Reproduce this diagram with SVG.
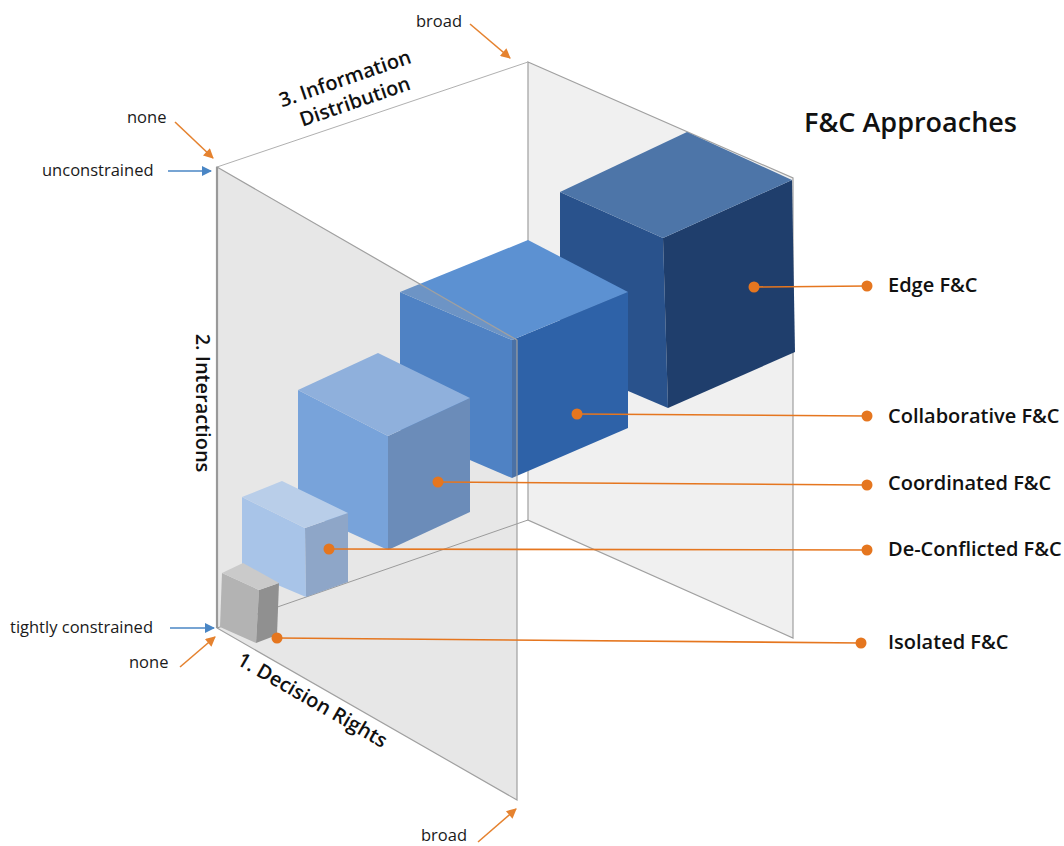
<svg xmlns="http://www.w3.org/2000/svg" width="1064" height="846" viewBox="0 0 1064 846">
<style>
text{font-family:"Open Sans","Liberation Sans",sans-serif;fill:#111}
.lbl{font-size:20px;font-weight:600}
.ax{font-size:20px;font-weight:600}
.sm{font-size:16.5px;fill:#1a1a1a}
.ttl{font-size:27px;font-weight:600}
.plane{stroke:#a0a0a0;stroke-width:1.2}
.lead{stroke:#e5761f;stroke-width:1.6;fill:none}
.dot{fill:#e5761f}
.oa{stroke:#e5822f;stroke-width:1.6;fill:none;marker-end:url(#ao)}
.ba{stroke:#4a86c5;stroke-width:1.6;fill:none;marker-end:url(#ab)}
</style>
<defs>
<marker id="ao" viewBox="0 0 10 10" refX="9" refY="5" markerWidth="12" markerHeight="10" markerUnits="userSpaceOnUse" orient="auto"><path d="M0,0L10,5L0,10z" fill="#e5822f"/></marker>
<marker id="ab" viewBox="0 0 10 10" refX="9" refY="5" markerWidth="12" markerHeight="10" markerUnits="userSpaceOnUse" orient="auto"><path d="M0,0L10,5L0,10z" fill="#4a86c5"/></marker>
</defs>
<rect width="1064" height="846" fill="#fff"/>

<g id="frame">
<polygon id="right-plane" class="plane" points="528,62 793,178 793,638 528,520" fill="#f0f0f0"/>
<line x1="217" y1="167" x2="528" y2="62" stroke="#b0b0b0" stroke-width="1"/>
<line x1="217" y1="628" x2="528" y2="520" stroke="#9a9a9a" stroke-width="1"/>
</g>

<g id="edge-cube">
<polygon points="560,192 663,238 668,408 560,362" fill="#29528c"/>
<polygon points="663,238 792,180 795,352 668,408" fill="#1f3e6c"/>
<polygon points="560,192 687,132 792,180 663,238" fill="#4d75a8"/>
</g>

<g id="collaborative-cube">
<polygon points="400,292 512,340 512,478 400,430" fill="#3479d0"/>
<polygon points="512,340 628,292 628,428 512,478" fill="#2e62a8"/>
<polygon points="400,292 528,240 628,292 512,340" fill="#5c91d2"/>
</g>

<g id="left-plane">
<polygon points="217,167 517,340 517,800 217,628" fill="#a0a0a0" fill-opacity="0.25" stroke="#a0a0a0" stroke-width="1.2"/>
<line x1="217" y1="167" x2="217" y2="628" stroke="#999" stroke-width="2.2"/>
</g>

<g id="coordinated-cube">
<polygon points="298,390 388,436 388,550 298,509" fill="#78a3da"/>
<polygon points="388,436 470,398 470,512 388,550" fill="#6b8cb9"/>
<polygon points="298,390 378,353 470,398 388,436" fill="#8fb0dc"/>
</g>

<g id="deconflicted-cube">
<polygon points="242,497 305,528 306,597 242,570" fill="#a8c4e8"/>
<polygon points="305,528 348,513 348,582 306,597" fill="#8ea6c8"/>
<polygon points="242,497 282,481 348,513 305,528" fill="#b9cee9"/>
</g>

<g id="isolated-cube">
<polygon points="222,573 259,590 256,643 220,627" fill="#b3b3b3"/>
<polygon points="259,590 279,583 277,635 256,643" fill="#909090"/>
<polygon points="222,573 243,563 279,583 259,590" fill="#cacaca"/>
</g>

<g id="connectors">
<line class="lead" x1="754" y1="287" x2="867" y2="286"/>
<circle class="dot" cx="754" cy="287" r="5.5"/><circle class="dot" cx="867" cy="286" r="5.5"/>
<line class="lead" x1="577" y1="414" x2="867" y2="416"/>
<circle class="dot" cx="577" cy="414" r="5.5"/><circle class="dot" cx="867" cy="416" r="5.5"/>
<line class="lead" x1="438" y1="482" x2="867" y2="485"/>
<circle class="dot" cx="438" cy="482" r="5.5"/><circle class="dot" cx="867" cy="485" r="5.5"/>
<line class="lead" x1="329" y1="549" x2="867" y2="550"/>
<circle class="dot" cx="329" cy="549" r="5.5"/><circle class="dot" cx="867" cy="550" r="5.5"/>
<line class="lead" x1="277" y1="638" x2="861" y2="643"/>
<circle class="dot" cx="277" cy="638" r="5.5"/><circle class="dot" cx="861" cy="643" r="5.5"/>
<line class="oa" x1="470" y1="24" x2="510" y2="58"/>
<line class="oa" x1="175" y1="122" x2="213" y2="158"/>
<line class="ba" x1="168" y1="171" x2="211" y2="171"/>
<line class="ba" x1="170" y1="628" x2="214" y2="628"/>
<line class="oa" x1="180" y1="667" x2="215" y2="637"/>
<line class="oa" x1="478" y1="842" x2="516" y2="809"/>
</g>

<g id="labels">
<text class="ttl" x="804" y="132">F&amp;C Approaches</text>
<text class="lbl" x="888" y="292">Edge F&amp;C</text>
<text class="lbl" x="888" y="423">Collaborative F&amp;C</text>
<text class="lbl" x="888" y="490">Coordinated F&amp;C</text>
<text class="lbl" x="888" y="556">De-Conflicted F&amp;C</text>
<text class="lbl" x="888" y="649">Isolated F&amp;C</text>
<text class="ax" text-anchor="middle" transform="translate(196,403) rotate(90)">2. Interactions</text>
<g transform="translate(352,96) rotate(-19)">
<text class="ax" text-anchor="middle" x="-1" y="-12">3. Information</text>
<text class="ax" text-anchor="middle" x="1" y="13">Distribution</text>
</g>
<text class="ax" text-anchor="middle" transform="translate(309,706) rotate(30)">1. Decision Rights</text>
<text class="sm" x="416" y="27">broad</text>
<text class="sm" x="127" y="123">none</text>
<text class="sm" x="42" y="176">unconstrained</text>
<text class="sm" x="10" y="633">tightly constrained</text>
<text class="sm" x="129" y="668">none</text>
<text class="sm" x="421" y="841">broad</text>
</g>
</svg>
